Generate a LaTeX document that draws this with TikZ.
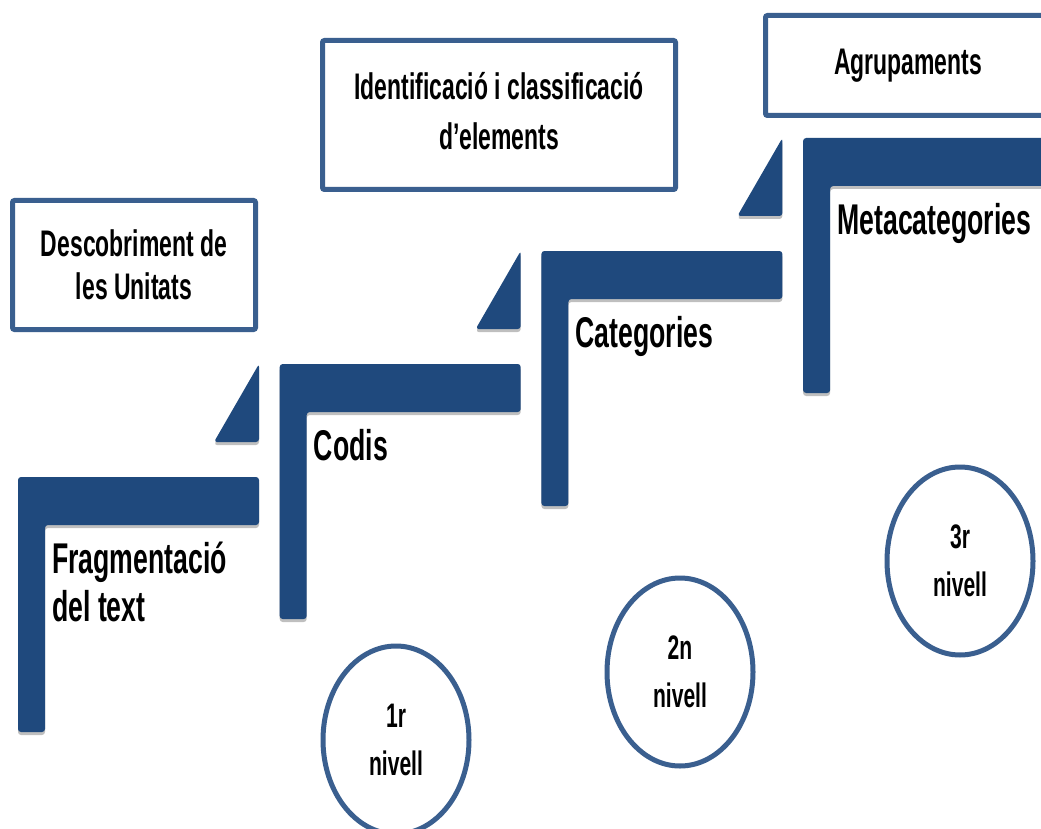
\documentclass[tikz,border=0pt]{standalone}
\usepackage{fontspec}
\setmainfont{Liberation Sans}[FakeStretch=0.62]
\usetikzlibrary{shapes.geometric, shadows}
\definecolor{stepblue}{HTML}{1F497D}
\definecolor{edgeblue}{HTML}{3A5F8F}
\tikzset{stair/.style={fill=stepblue, rounded corners=3pt, drop shadow={shadow xshift=0pt, shadow yshift=-3pt, opacity=.25, fill=black}}}
\tikzset{steplabel/.style={anchor=north west, inner sep=0pt, align=left, font=\fontsize{43}{48}\selectfont\bfseries}}
\tikzset{phase/.style={draw=edgeblue, line width=5pt, rounded corners=2pt, fill=white, align=center, inner sep=0pt, font=\fontsize{37}{43}\selectfont\bfseries}}
\tikzset{level/.style={ellipse, draw=edgeblue, line width=5pt, minimum width=146pt, minimum height=188pt, align=center, inner sep=0pt, font=\fontsize{34}{48}\selectfont\bfseries}}

\begin{document}
\begin{tikzpicture}[x=1pt, y=-1pt]
    \path[use as bounding box, fill=white] (0,0) rectangle (1041,829);
    \foreach \lbl [count=\i from 0] in {{Fragmentació\\del text}, Codis, Categories, Metacategories} {
        \pgfmathsetmacro\sx{18+261.7*\i}
        \pgfmathsetmacro\sy{477-113*\i}
        \fill[stair] (\sx,\sy) -- ++(241,0) -- ++(0,48) -- ++(-214,0) -- ++(0,207) -- ++(-27,0) -- cycle;
        \ifnum\i<3
            \fill[stair] (\sx+241,\sy-113) -- (\sx+241,\sy-35) -- (\sx+196,\sy-35) -- cycle;
        \fi
        \node[steplabel] (step\i) at (\sx+34,\sy+62.4) {\strut\lbl};
    }
    \node[phase, minimum width=243pt, minimum height=129pt] (unitats) at (134,265) {Descobriment de\\les Unitats};
    \node[phase, minimum width=353pt, minimum height=149pt, font=\fontsize{37}{50}\selectfont\bfseries] (ident) at (499,115) {\strut Identificació i classificació\\\strut d’elements};
    \node[phase, minimum width=285pt, minimum height=100pt] (agrup) at (908,65.5) {Agrupaments};
    \node[level] (niv1) at (396,740) {1r\\nivell};
    \node[level] (niv2) at (680,672) {2n\\nivell};
    \node[level] (niv3) at (960,561) {3r\\nivell};
\end{tikzpicture}
\end{document}
